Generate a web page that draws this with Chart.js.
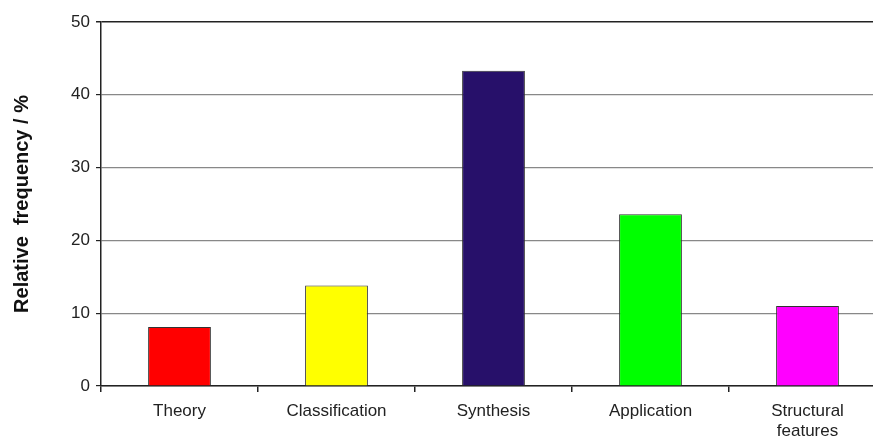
<!DOCTYPE html>
<html>
<head>
<meta charset="utf-8">
<script src="https://cdn.jsdelivr.net/npm/chart.js@4"></script>
<style>
  html, body { margin: 0; padding: 0; background: #fff; overflow: hidden; }
  #wrap { width: 873px; height: 439px; overflow: hidden; }
  #box { width: 890px; height: 439px; }
</style>
</head>
<body>
<div id="wrap"><div id="box"><canvas id="myChart"></canvas></div></div>
<script>
const categories = ['Theory', 'Classification', 'Synthesis', 'Application', ['Structural', 'features']];
const frequency = [8.1, 13.8, 43.3, 23.6, 11.0];
const barColors = ['#ff0000', '#ffff00', '#27106a', '#00ff00', '#ff00ff'];
const yTicks = [0, 10, 20, 30, 40, 50];

let ctx = document.getElementById('myChart').getContext('2d');

let freqChart = new Chart(ctx, {
    type: 'bar',
    data: {
        labels: categories,
        datasets: [{
            data: frequency,
            backgroundColor: barColors,
            borderColor: '#333',
            borderWidth: 1,
            barPercentage: 0.4,
            categoryPercentage: 1.0
        }]
    },
    options: {
        responsive: true,
        maintainAspectRatio: false,
        animation: false,
        layout: { padding: { top: 22, left: 0, right: 4, bottom: 0 } },
        plugins: { legend: { display: false }, tooltip: { enabled: false } },
        scales: {
            x: {
                grid: {
                    offset: true,
                    drawOnChartArea: false,
                    tickLength: 6,
                    color: '#222',
                    lineWidth: 1.5
                },
                border: { color: '#222', width: 1.5 },
                ticks: {
                    color: '#222',
                    padding: 10,
                    maxRotation: 0,
                    autoSkip: false,
                    font: { family: 'Liberation Sans, Arial', size: 17, lineHeight: 1.15 }
                },
                afterFit: function (scale) { scale.height = 53; }
            },
            y: {
                min: 0,
                max: 50,
                afterBuildTicks: function (scale) {
                    scale.ticks = yTicks.map(v => ({ value: v }));
                },
                grid: {
                    color: ctx => (ctx.tick && ctx.tick.value === 50) ? '#222' : '#888',
                    lineWidth: ctx => (ctx.tick && ctx.tick.value === 50) ? 1.5 : 1.2,
                    tickLength: 5,
                    tickColor: '#222'
                },
                border: { color: '#222', width: 1.5 },
                ticks: {
                    color: '#222',
                    padding: 6,
                    font: { family: 'Liberation Sans, Arial', size: 17 }
                },
                title: {
                    display: true,
                    text: 'Relative  frequency / %',
                    color: '#111',
                    padding: { top: 10, bottom: 0 },
                    font: { family: 'Liberation Sans, Arial', size: 20, weight: 'bold' }
                },
                afterFit: function (scale) { scale.width = 101; }
            }
        }
    }
});
</script>
</body>
</html>
